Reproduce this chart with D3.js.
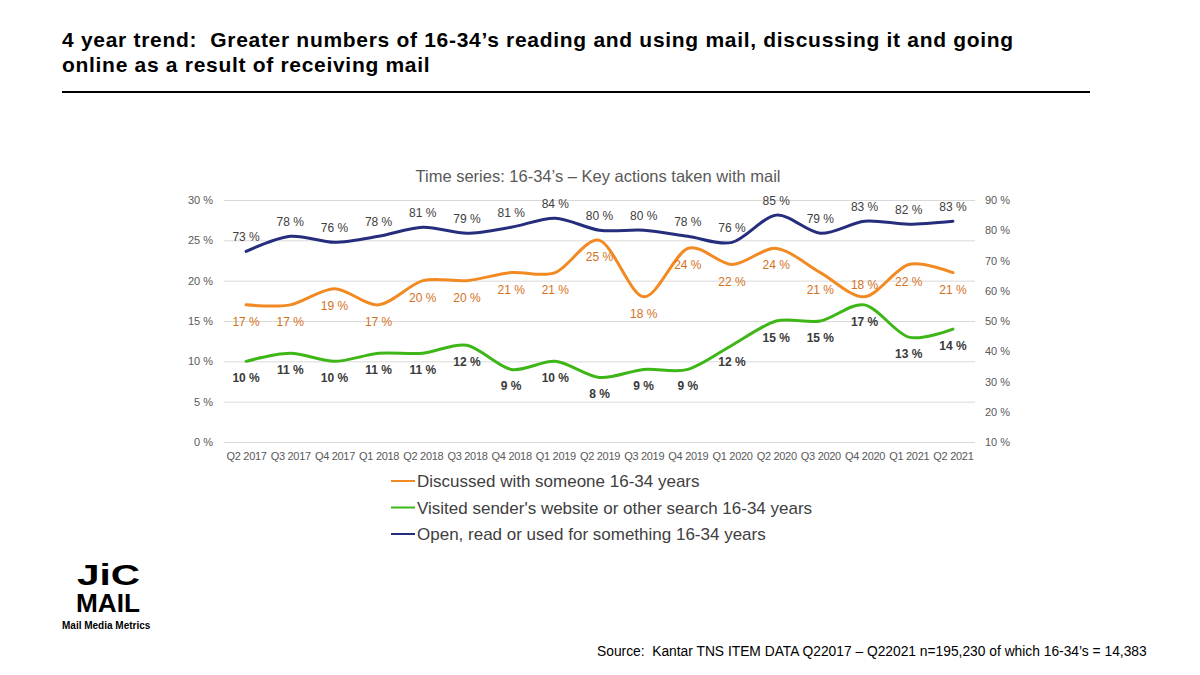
<!DOCTYPE html>
<html><head><meta charset="utf-8">
<script src="https://cdn.jsdelivr.net/npm/d3@7"></script>
<style>
html,body{margin:0;padding:0;background:#fff;}
svg{display:block;font-family:Arial,"Liberation Sans",sans-serif;}
svg text{white-space:pre;}
</style></head>
<body><svg id="c" width="1200" height="675"></svg>
<script>
const categories = ["Q2 2017","Q3 2017","Q4 2017","Q1 2018","Q2 2018","Q3 2018","Q4 2018","Q1 2019","Q2 2019","Q3 2019","Q4 2019","Q1 2020","Q2 2020","Q3 2020","Q4 2020","Q1 2021","Q2 2021"];
const discussed = [17,17,19,17,20,20,21,21,25,18,24,22,24,21,18,22,21];
const visited   = [10,11,10,11,11,12,9,10,8,9,9,12,15,15,17,13,14];
const opened    = [73,78,76,78,81,79,81,84,80,80,78,76,85,79,83,82,83];
const leftTicks  = [0,5,10,15,20,25,30];
const rightTicks = [10,20,30,40,50,60,70,80,90];
const discussedLabelPos = ["b","b","b","b","b","b","b","b","b","b","b","b","b","b","a","b","b"];
const seriesNames = ["Discussed with someone 16-34 years","Visited sender's website or other search 16-34 years","Open, read or used for something 16-34 years"];

const svg = d3.select("#c");
const C_OR = "#f28a24", C_GR = "#3fb618", C_BL = "#262d7d";

// Page title
const t = svg.append("text").attr("x",62).attr("font-weight","bold").attr("font-size",21).attr("letter-spacing","0.7").attr("fill","#000");
t.append("tspan").attr("x",62).attr("y",47).text("4 year trend:  Greater numbers of 16-34’s reading and using mail, discussing it and going");
t.append("tspan").attr("x",62).attr("y",72).text("online as a result of receiving mail");
svg.append("line").attr("x1",62).attr("x2",1090).attr("y1",92).attr("y2",92).attr("stroke","#000").attr("stroke-width",2);

// Scales
const x = d3.scalePoint().domain(categories).range([224,975]).padding(0.5);
const yL = d3.scaleLinear().domain([0,30]).range([442,200]);
const yR = d3.scaleLinear().domain([10,90]).range([442,200]);

// gridlines + left axis
const gL = svg.append("g").attr("transform","translate(224,0)")
  .call(d3.axisLeft(yL).tickValues(leftTicks).tickFormat(d=>d+" %").tickSize(-751).tickPadding(11));
gL.select(".domain").remove();
gL.selectAll("line").attr("stroke","#d9d9d9").attr("stroke-width",1);
gL.selectAll("text").attr("font-size",11).attr("fill","#595959").attr("font-family","Arial, 'Liberation Sans', sans-serif");

const gR = svg.append("g").attr("transform","translate(975,0)")
  .call(d3.axisRight(yR).tickValues(rightTicks).tickFormat(d=>d+" %").tickSize(0).tickPadding(10));
gR.select(".domain").remove();
gR.selectAll("text").attr("font-size",11).attr("fill","#595959").attr("font-family","Arial, 'Liberation Sans', sans-serif");

const gX = svg.append("g").attr("transform","translate(0,442)")
  .call(d3.axisBottom(x).tickSize(0).tickPadding(10));
gX.select(".domain").remove();
gX.selectAll("text").attr("font-size",11).attr("fill","#595959").attr("font-family","Arial, 'Liberation Sans', sans-serif").attr("letter-spacing","-0.3");

// chart title
svg.append("text").attr("x",598).attr("y",182).attr("text-anchor","middle").attr("font-size",16.5).attr("fill","#595959").text("Time series: 16-34’s – Key actions taken with mail");

const curve = d3.curveCardinal.tension(0.1);
function drawLine(data, y, color){
  svg.append("path").datum(data)
    .attr("d", d3.line().x((d,i)=>x(categories[i])).y(d=>y(d)).curve(curve))
    .attr("fill","none").attr("stroke",color).attr("stroke-width",3).attr("stroke-linecap","round");
}
drawLine(discussed, yL, C_OR);
drawLine(visited, yL, C_GR);
drawLine(opened, yR, C_BL);

// labels
svg.append("g").selectAll("text").data(opened).join("text")
  .attr("x",(d,i)=>x(categories[i])).attr("y",d=>yR(d)-10)
  .attr("text-anchor","middle").attr("font-size",12).attr("fill","#404040").text(d=>d+" %");
svg.append("g").selectAll("text").data(discussed).join("text")
  .attr("x",(d,i)=>x(categories[i])).attr("y",(d,i)=>discussedLabelPos[i]==="a"? yL(d)-8 : yL(d)+21)
  .attr("text-anchor","middle").attr("font-size",12).attr("fill","#d4711c").text(d=>d+" %");
svg.append("g").selectAll("text").data(visited).join("text")
  .attr("x",(d,i)=>x(categories[i])).attr("y",d=>yL(d)+21)
  .attr("text-anchor","middle").attr("font-size",12).attr("font-weight","bold").attr("fill","#3a3a3a").text(d=>d+" %");

// legend
const colors = [C_OR, C_GR, C_BL];
const lg = svg.append("g");
seriesNames.forEach((n,i)=>{
  const yy = 481 + i*26.5;
  lg.append("line").attr("x1",391).attr("x2",415).attr("y1",yy).attr("y2",yy).attr("stroke",colors[i]).attr("stroke-width",2);
  lg.append("text").attr("x",417).attr("y",yy+6).attr("font-size",17).attr("fill","#404040").text(n);
});

// logo
const logo = svg.append("g").attr("font-family","'Liberation Sans Narrow','Liberation Sans',Arial,sans-serif");
logo.append("text").attr("x",77).attr("y",585).attr("font-size",29).attr("font-weight","900")
  .attr("textLength",63).attr("lengthAdjust","spacingAndGlyphs").attr("fill","#000").text("JiC");
logo.append("text").attr("x",76).attr("y",612).attr("font-size",26).attr("font-weight","900")
  .attr("textLength",64).attr("lengthAdjust","spacingAndGlyphs").attr("fill","#000").text("MAIL");
logo.append("text").attr("x",62).attr("y",629).attr("font-size",10).attr("font-weight","bold").attr("fill","#000").text("Mail Media Metrics");

// source
svg.append("text").attr("x",597).attr("y",656).attr("font-size",13.8).attr("fill","#000").text("Source:  Kantar TNS ITEM DATA Q22017 – Q22021 n=195,230 of which 16-34’s = 14,383");
</script></body></html>
